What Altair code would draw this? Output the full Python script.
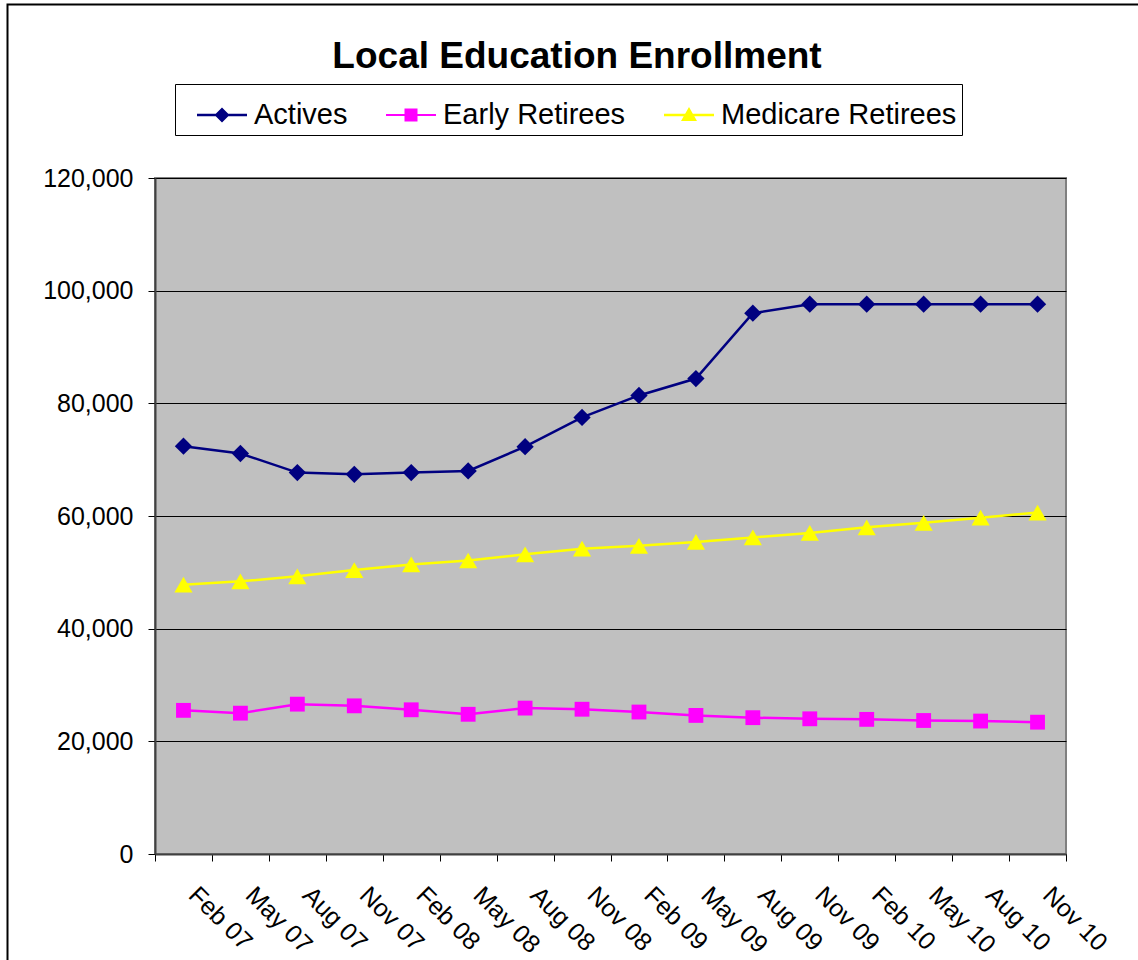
import altair as alt
import pandas as pd

months = ["Feb 07", "May 07", "Aug 07", "Nov 07", "Feb 08", "May 08", "Aug 08", "Nov 08",
          "Feb 09", "May 09", "Aug 09", "Nov 09", "Feb 10", "May 10", "Aug 10", "Nov 10"]
actives = [72400, 71100, 67700, 67400, 67700, 68000, 72300, 77500,
           81400, 84400, 96000, 97600, 97600, 97600, 97600, 97600]
early_retirees = [25500, 25000, 26600, 26300, 25600, 24800, 25900, 25700,
                  25200, 24600, 24200, 24000, 23900, 23700, 23600, 23400]
medicare_retirees = [47800, 48400, 49300, 50400, 51400, 52100, 53200, 54200,
                     54700, 55400, 56200, 57000, 58000, 58800, 59700, 60600]

title_text = "Local Education Enrollment"
series_names = ["Actives", "Early Retirees", "Medicare Retirees"]
series_colors = ["#000080", "#FF00FF", "#FFFF00"]
plot_shapes = ["diamond", "square", "triangle-up"]
plot_sizes = [300, 220, 330]
legend_shapes = [
    "M-1,-0.05L1,-0.05L1,0.05L-1,0.05Z M0,-0.3L0.3,0L0,0.3L-0.3,0Z",
    "M-1,-0.04L1,-0.04L1,0.04L-1,0.04Z M-0.26,-0.26L0.26,-0.26L0.26,0.26L-0.26,0.26Z",
    "M-1,-0.05L1,-0.05L1,0.05L-1,0.05Z M0,-0.32L0.32,0.24L-0.32,0.24Z",
]

rows = []
for name, vals in zip(series_names, [actives, early_retirees, medicare_retirees]):
    for i, (m, v) in enumerate(zip(months, vals)):
        rows.append({"idx": i, "month": m, "series": name, "value": v})
df = pd.DataFrame(rows)

label_array = "[" + ",".join("'" + m + "'" for m in months) + "]"
tick_vals = [i - 0.5 for i in range(len(months) + 1)]

W, H = 911, 676
FONT = "Liberation Sans"

x_enc = alt.X("idx:Q",
              scale=alt.Scale(domain=[-0.5, len(months) - 0.5], nice=False, zero=False),
              axis=alt.Axis(values=tick_vals, title=None, grid=False,
                            labelExpr=label_array + "[round(datum.value + 0.5)] || ''",
                            labelAngle=45, labelAlign="left", labelBaseline="top",
                            labelOffset=46, labelPadding=21, labelFlush=False,
                            labelOverlap=False, labelBound=False,
                            labelFontSize=25, labelFont=FONT, labelColor="black",
                            tickSize=7, tickColor="black", tickWidth=1,
                            domainColor="#404040", domainWidth=2))
y_enc = alt.Y("value:Q",
              scale=alt.Scale(domain=[0, 120000], nice=False),
              axis=alt.Axis(values=[0, 20000, 40000, 60000, 80000, 100000, 120000],
                            format=",d", title=None, grid=True, gridColor="black",
                            gridWidth=1, gridOpacity=1,
                            labelFontSize=25, labelFont=FONT, labelColor="black",
                            labelPadding=15, tickSize=7, tickColor="black", tickWidth=1,
                            domainColor="#404040", domainWidth=2))
color_scale = alt.Scale(domain=series_names, range=series_colors)

base = alt.Chart(df)

series_layers = []
for name, col, shp, sz in zip(series_names, series_colors, plot_shapes, plot_sizes):
    sub = base.transform_filter(alt.datum.series == name)
    series_layers.append(
        sub.mark_line(strokeWidth=2.5, color=col).encode(x=x_enc, y=y_enc)
    )
    series_layers.append(
        sub.mark_point(filled=True, size=sz, opacity=1, shape=shp, color=col)
        .encode(x=x_enc, y=y_enc)
    )

leg = alt.Legend(title=None, orient="none", legendX=20, legendY=-94,
                 direction="horizontal", strokeColor="black",
                 fillColor="white", padding=5, symbolOffset=16,
                 symbolSize=2500, labelFontSize=29, labelLimit=0,
                 labelFont=FONT, labelColor="black",
                 labelOffset=6, columnPadding=21)

legend_layer = base.transform_filter("false").mark_point(filled=True, opacity=1).encode(
    x=x_enc, y=y_enc,
    color=alt.Color("series:N", scale=color_scale, legend=leg),
    shape=alt.Shape("series:N", scale=alt.Scale(domain=series_names, range=legend_shapes),
                    legend=leg),
)

one = pd.DataFrame({"k": [0]})
frame = alt.Chart(one).mark_rect(
    fill=None, stroke="black", strokeWidth=2, clip=False
).encode(
    x=alt.value(-147.5), y=alt.value(-173.5), x2=alt.value(W + 200), y2=alt.value(H + 200)
)

title = alt.Chart(one).mark_text(
    text=title_text, font=FONT, fontSize=37, fontWeight="bold", color="black",
    align="center", baseline="alphabetic", clip=False
).encode(x=alt.value(422), y=alt.value(-110))

chart = alt.layer(frame, title, *series_layers, legend_layer).properties(
    width=W, height=H,
    autosize=alt.AutoSizeParams(type="none"),
    padding={"left": 155, "top": 178, "right": 72, "bottom": 106},
    background="white",
).configure_view(
    fill="#C0C0C0", stroke="#808080", strokeWidth=2
)

chart.save("out.html", embed_options={"renderer": "svg", "actions": False})
